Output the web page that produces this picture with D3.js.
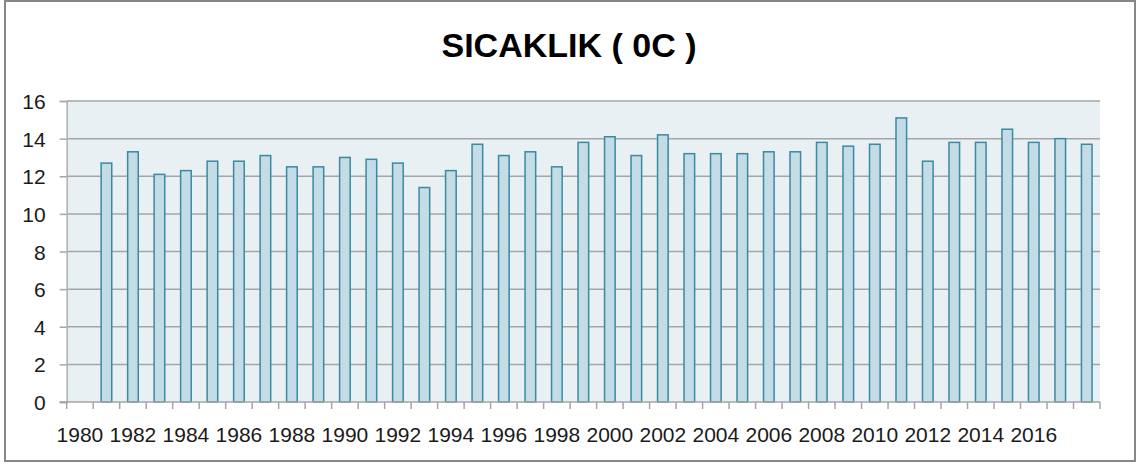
<!DOCTYPE html>
<html><head><meta charset="utf-8">
<script src="https://cdn.jsdelivr.net/npm/d3@7"></script>
<style>
html,body{margin:0;padding:0;background:#fff;}
svg{display:block;}
</style></head>
<body>
<svg id="chart" width="1138" height="466"></svg>
<script>
const title = "SICAKLIK ( 0C )";
const years = [1980,1981,1982,1983,1984,1985,1986,1987,1988,1989,1990,1991,1992,1993,1994,1995,1996,1997,1998,1999,2000,2001,2002,2003,2004,2005,2006,2007,2008,2009,2010,2011,2012,2013,2014,2015,2016,2017,2018];
const values = [null,12.7,13.3,12.1,12.3,12.8,12.8,13.1,12.5,12.5,13.0,12.9,12.7,11.4,12.3,13.7,13.1,13.3,12.5,13.8,14.1,13.1,14.2,13.2,13.2,13.2,13.3,13.3,13.8,13.6,13.7,15.1,12.8,13.8,13.8,14.5,13.8,14.0,13.7];
const xTickLabels = [1980,1982,1984,1986,1988,1990,1992,1994,1996,1998,2000,2002,2004,2006,2008,2010,2012,2014,2016];
const yTicks = [0,2,4,6,8,10,12,14,16];

const svg = d3.select("#chart");
const L = 66.7, R = 1100, T = 101, B = 402;
const axisFont = "'Liberation Sans',Arial,sans-serif";

svg.append("rect").attr("x",5).attr("y",1).attr("width",1130).attr("height",460)
  .attr("fill","#fff").attr("stroke","#878787").attr("stroke-width",2);

svg.append("text").attr("x",569).attr("y",57).attr("text-anchor","middle")
  .attr("font-family","'Liberation Sans',Arial,sans-serif").attr("font-weight","bold")
  .attr("font-size",34).attr("fill","#000").text(title);

const x = d3.scaleBand().domain(years).range([L,R]).paddingInner(0.6).paddingOuter(0.3);
const y = d3.scaleLinear().domain([0,16]).range([B,T]);

svg.append("rect").attr("x",L).attr("y",T).attr("width",R-L).attr("height",B-T).attr("fill","#e9f0f4");

svg.append("g").selectAll("line").data(yTicks.filter(d=>d>0)).join("line")
  .attr("x1",L).attr("x2",R).attr("y1",d=>y(d)).attr("y2",d=>y(d))
  .attr("stroke","#a5a5a5").attr("stroke-width",1.5);

const yAxis = svg.append("g").attr("transform",`translate(${L},0)`)
  .call(d3.axisLeft(y).tickValues(yTicks).tickSize(7).tickFormat(d3.format("d")));
yAxis.select(".domain").attr("stroke","#b0b0b0").attr("stroke-width",1.5);
yAxis.selectAll(".tick line").attr("stroke","#a5a5a5").attr("stroke-width",1.5);
yAxis.selectAll(".tick text").attr("x",-21).attr("dy",null).attr("y",7.5)
  .attr("font-family",axisFont).attr("font-size",21).attr("fill","#1a1a1a");

svg.append("g").selectAll("rect").data(years.map((yr,i)=>({yr,v:values[i]})).filter(d=>d.v!=null)).join("rect")
  .attr("x",d=>x(d.yr)).attr("width",x.bandwidth())
  .attr("y",d=>y(d.v)).attr("height",d=>B-y(d.v))
  .attr("fill","#c3dce5").attr("stroke","#3a8aa2").attr("stroke-width",1.5);

const step = x.step();
const xg = svg.append("g");
xg.append("line").attr("x1",L-7).attr("x2",R).attr("y1",B).attr("y2",B).attr("stroke","#a5a5a5").attr("stroke-width",1.5);
const bounds = d3.range(years.length+1).map(i => L + i*step);
xg.selectAll("line.tk").data(bounds).join("line").attr("class","tk")
  .attr("x1",d=>d).attr("x2",d=>d).attr("y1",B).attr("y2",B+7)
  .attr("stroke","#a5a5a5").attr("stroke-width",1.5);
xg.selectAll("text").data(xTickLabels).join("text")
  .attr("x",d=>x(d)+x.bandwidth()/2).attr("y",441.5).attr("text-anchor","middle")
  .attr("font-family",axisFont).attr("font-size",21).attr("fill","#1a1a1a").text(d=>d);
</script>
</body></html>
